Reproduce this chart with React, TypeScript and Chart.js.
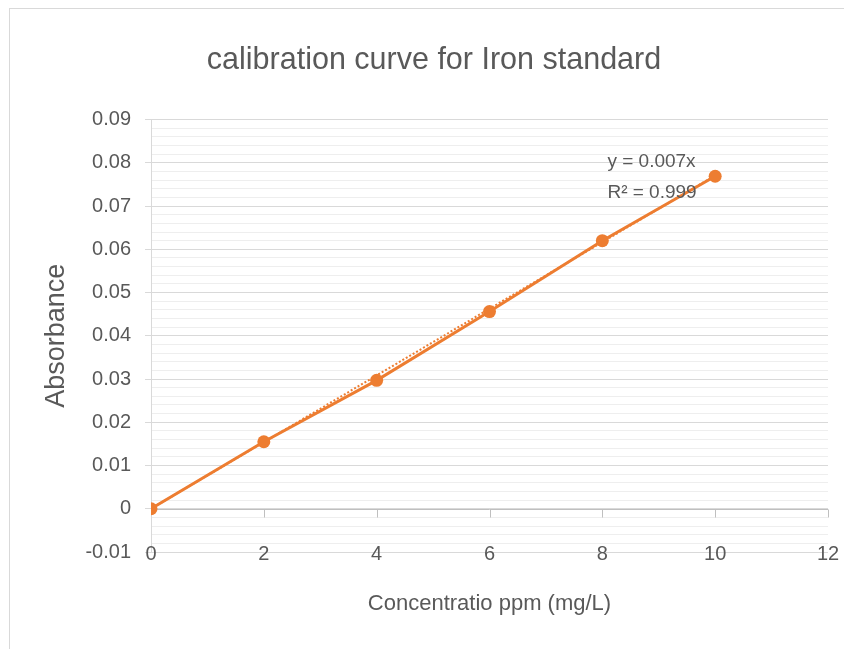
import React, { useEffect, useRef } from "react";
import { Chart, registerables } from "chart.js";

Chart.register(...registerables);

// ---- data ----
const concentrations = [0, 2, 4, 6, 8, 10];
const absorbances = [0, 0.0155, 0.0297, 0.0456, 0.062, 0.0769];
const trendX = [0, 10];
const trendY = [0, 0.0771];
const xTickValues = [0, 2, 4, 6, 8, 10, 12];
const equationLines = ["y = 0.007x", "R² = 0.999"];
const chartTitle = "calibration curve for Iron standard";
const xTitle = "Concentratio ppm (mg/L)";
const yTitle = "Absorbance";

const ORANGE = "#ED7D31";
const TEXT = "#595959";
const FONT = "'Liberation Sans', Arial, sans-serif";

const isMajor = (v: number) => Math.abs(v * 100 - Math.round(v * 100)) < 1e-6;

const zeroAxisPlugin = {
  id: "zeroAxis",
  beforeDatasetsDraw(chart: any) {
    const { ctx, chartArea, scales } = chart;
    const x = scales.x;
    const y = scales.y;
    const y0 = Math.round(y.getPixelForValue(0)) + 0.5;
    ctx.save();
    ctx.strokeStyle = "#bfbfbf";
    ctx.lineWidth = 1;
    ctx.beginPath();
    ctx.moveTo(chartArea.left, y0);
    ctx.lineTo(chartArea.right, y0);
    xTickValues.forEach((v) => {
      if (v === 0) return;
      const px = Math.round(x.getPixelForValue(v)) + 0.5;
      ctx.moveTo(px, y0);
      ctx.lineTo(px, y0 + 8);
    });
    ctx.stroke();
    ctx.restore();
  },
  afterDraw(chart: any) {
    const { ctx, scales, chartArea } = chart;
    const x = scales.x;
    const y = scales.y;
    ctx.save();
    ctx.fillStyle = TEXT;
    // x tick labels sit on the bottom gridline, as in the reference
    ctx.font = `20px ${FONT}`;
    ctx.textAlign = "center";
    ctx.textBaseline = "middle";
    xTickValues.forEach((v) => {
      ctx.fillText(String(v), x.getPixelForValue(v), chartArea.bottom + 2);
    });
    // trendline equation
    ctx.font = `19px ${FONT}`;
    ctx.textAlign = "left";
    const left = x.getPixelForValue(8.09);
    ctx.fillText(equationLines[0], left, y.getPixelForValue(0.0803));
    ctx.fillText(equationLines[1], left, y.getPixelForValue(0.0731));
    ctx.restore();
  },
};

export default function App() {
  const ref = useRef<HTMLCanvasElement>(null);

  useEffect(() => {
    if (!ref.current) return;
    const chart = new Chart(ref.current, {
      type: "scatter",
      data: {
        datasets: [
          {
            label: "Absorbance",
            data: concentrations.map((c, i) => ({ x: c, y: absorbances[i] })),
            showLine: true,
            borderColor: ORANGE,
            backgroundColor: ORANGE,
            borderWidth: 3,
            pointRadius: 6.5,
            pointHoverRadius: 6.5,
            pointBorderWidth: 0,
            order: 1,
          },
          {
            label: "Linear",
            data: trendX.map((c, i) => ({ x: c, y: trendY[i] })),
            showLine: true,
            borderColor: ORANGE,
            borderWidth: 2,
            borderDash: [2, 2],
            pointRadius: 0,
            order: 2,
          },
        ],
      },
      options: {
        animation: false,
        responsive: false,
        maintainAspectRatio: false,
        layout: { padding: { left: 30, right: 25, top: 0, bottom: 32 } },
        plugins: {
          legend: { display: false },
          tooltip: { enabled: false },
          title: {
            display: true,
            text: chartTitle,
            color: TEXT,
            font: { family: FONT, size: 30.5, weight: "normal" },
            padding: { top: 33, bottom: 41 },
          },
        },
        scales: {
          x: {
            type: "linear",
            min: 0,
            max: 12,
            afterFit: (s: any) => {
              s.height = 65;
            },
            ticks: {
              stepSize: 2,
              display: false,
            },
            grid: { display: false, drawTicks: false },
            border: { display: false },
            title: {
              display: true,
              text: xTitle,
              color: TEXT,
              font: { family: FONT, size: 22 },
              padding: 0,
            },
          },
          y: {
            type: "linear",
            min: -0.01,
            max: 0.09,
            afterFit: (s: any) => {
              s.width = 111;
            },
            ticks: {
              stepSize: 0.002,
              maxTicksLimit: 200,
              autoSkip: false,
              color: TEXT,
              padding: 14,
              font: { family: FONT, size: 20 },
              callback: (v: any) => (isMajor(Number(v)) ? String(Number(Number(v).toFixed(2))) : ""),
            },
            grid: {
              color: (c: any) => (isMajor(c.tick.value) ? "#d9d9d9" : "#eeeeee"),
              tickColor: (c: any) => (isMajor(c.tick.value) ? "#d9d9d9" : "rgba(0,0,0,0)"),
              tickLength: 6,
              lineWidth: 1,
            },
            border: { display: true, color: "#d9d9d9" },
            title: {
              display: true,
              text: yTitle,
              color: TEXT,
              font: { family: FONT, size: 27 },
              padding: 0,
            },
          },
        },
      },
      plugins: [zeroAxisPlugin],
    });
    return () => chart.destroy();
  }, []);

  return (
    <div
      style={{
        marginLeft: 1,
        width: 843,
        height: 640,
        borderLeft: "1px solid #d9d9d9",
        borderTop: "1px solid #d9d9d9",
        background: "#fff",
      }}
    >
      <canvas ref={ref} width={843} height={640} style={{ display: "block" }} />
    </div>
  );
}
